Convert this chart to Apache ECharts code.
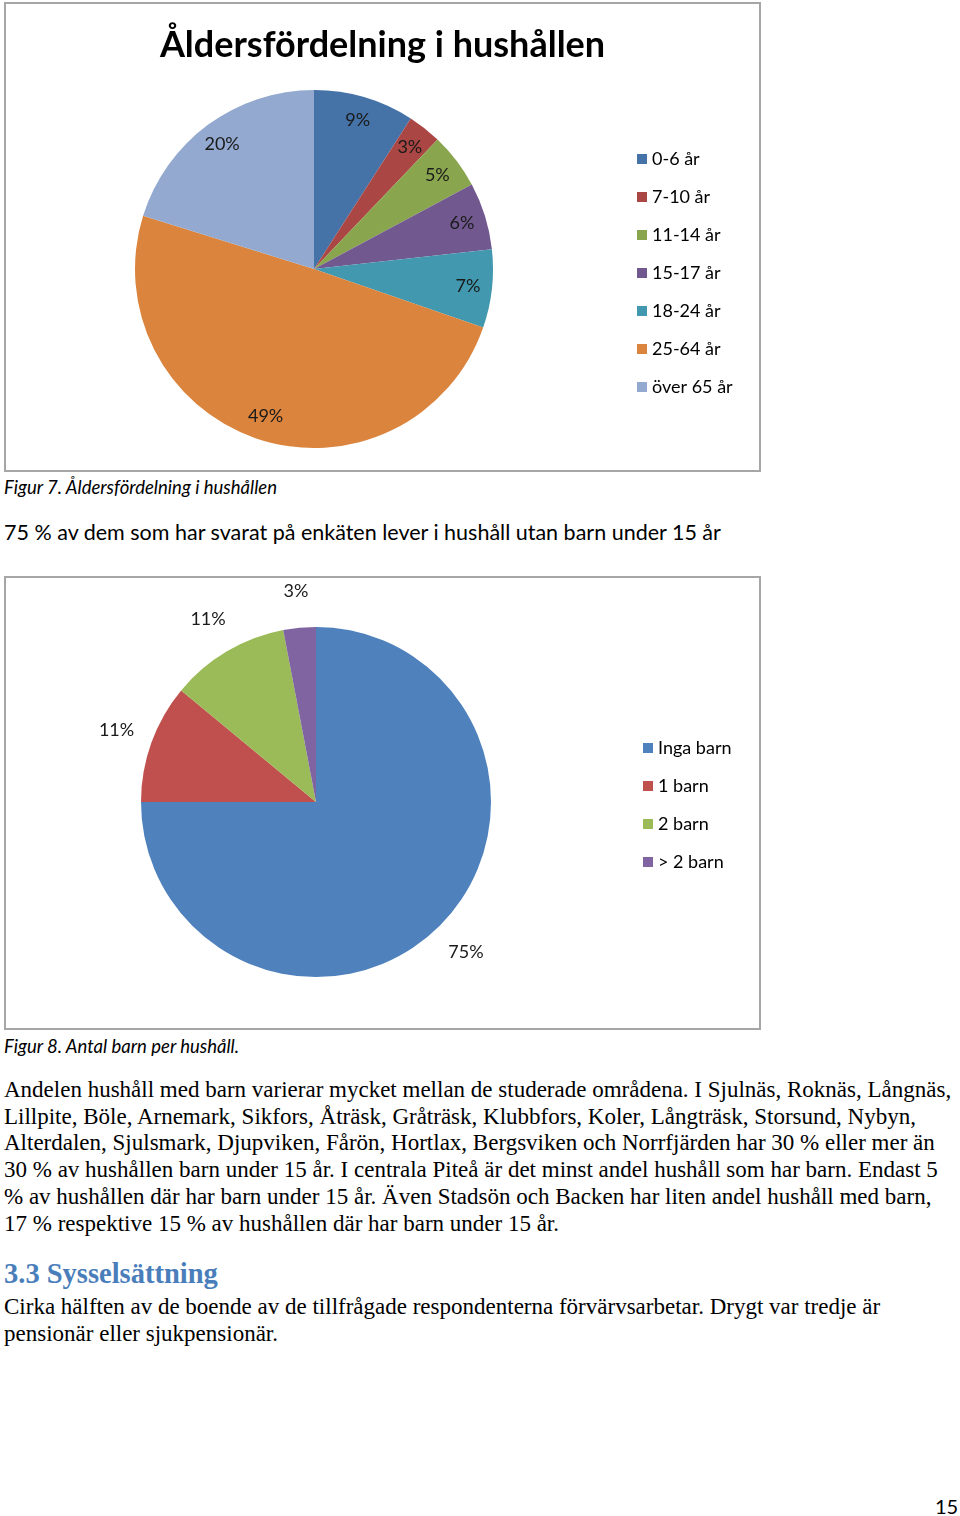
<!DOCTYPE html>
<html>
<head>
<meta charset="utf-8">
<script src="https://cdn.jsdelivr.net/npm/echarts@6/dist/echarts.min.js"></script>
<style>
  html, body { margin: 0; padding: 0; background: #fff; }
  #page { position: relative; width: 960px; height: 1516px; background: #fff; overflow: hidden; }
  .box { position: absolute; box-sizing: border-box; border: 2px solid #a6a6a6; background: #fff; }
  .t { position: absolute; white-space: nowrap; color: #000; }
  .cap { font-family: Lato, "Open Sans", sans-serif; font-style: italic; font-size: 18.5px; line-height: 22px; }
  .lead { font-family: Lato, "Open Sans", sans-serif; font-size: 21.5px; line-height: 26px; }
  .ser { font-family: "Liberation Serif", "DejaVu Serif", serif; font-size: 23px; line-height: 26px; }
  .h { font-family: "Liberation Serif", serif; font-weight: bold; font-size: 28.5px; line-height: 32px; color: #4a7ebb; }
</style>
</head>
<body>
<div id="page">
  <div id="c1" class="box" style="left:4px; top:2px; width:757px; height:470px;"></div>
  <div class="t cap" style="left:4px; top:476px;">Figur 7. Åldersfördelning i hushållen</div>
  <div class="t lead" style="left:4px; top:519px;">75 % av dem som har svarat på enkäten lever i hushåll utan barn under 15 år</div>
  <div id="c2" class="box" style="left:4px; top:576px; width:757px; height:454px;"></div>
  <div class="t cap" style="left:4px; top:1035px;">Figur 8. Antal barn per hushåll.</div>

  <div class="t ser" style="left:4px; top:1077px;">Andelen hushåll med barn varierar mycket mellan de studerade områdena. I Sjulnäs, Roknäs, Långnäs,</div>
  <div class="t ser" style="left:4px; top:1104px;">Lillpite, Böle, Arnemark, Sikfors, Åträsk, Gråträsk, Klubbfors, Koler, Långträsk, Storsund, Nybyn,</div>
  <div class="t ser" style="left:4px; top:1130px;">Alterdalen, Sjulsmark, Djupviken, Fårön, Hortlax, Bergsviken och Norrfjärden har 30 % eller mer än</div>
  <div class="t ser" style="left:4px; top:1157px;">30 % av hushållen barn under 15 år. I centrala Piteå är det minst andel hushåll som har barn. Endast 5</div>
  <div class="t ser" style="left:4px; top:1184px;">% av hushållen där har barn under 15 år. Även Stadsön och Backen har liten andel hushåll med barn,</div>
  <div class="t ser" style="left:4px; top:1211px;">17 % respektive 15 % av hushållen där har barn under 15 år.</div>

  <div class="t h" style="left:4px; top:1258px;">3.3 Sysselsättning</div>
  <div class="t ser" style="left:4px; top:1294px;">Cirka hälften av de boende av de tillfrågade respondenterna förvärvsarbetar. Drygt var tredje är</div>
  <div class="t ser" style="left:4px; top:1321px;">pensionär eller sjukpensionär.</div>

  <div class="t" style="left:935px; top:1494px; font-family: Lato, sans-serif; font-size:20px; line-height:24px;">15</div>
</div>
<script>
// ---- Data ----
const ageTitle = 'Åldersfördelning i hushållen';
const ageCategories = ['0-6 år', '7-10 år', '11-14 år', '15-17 år', '18-24 år', '25-64 år', 'över 65 år'];
const ageValues = [9, 3, 5, 6, 7, 49, 20];
const ageColors = ['#4572a7', '#aa4643', '#89a54e', '#71588f', '#4198af', '#db843d', '#93a9cf'];

const childCategories = ['Inga barn', '1 barn', '2 barn', '> 2 barn'];
const childValues = [75, 11, 11, 3];
const childColors = ['#4f81bd', '#c0504d', '#9bbb59', '#8064a2'];

const FONT = 'Lato, "Open Sans", sans-serif';

function legendData(cats, colors) {
  return cats.map((n, i) => ({ name: n, itemStyle: { color: colors[i] } }));
}
function mainData(cats, vals, colors) {
  return cats.map((n, i) => ({ name: n, value: vals[i], itemStyle: { color: colors[i] } }));
}
function labelData(cats, vals) {
  return cats.map((n, i) => ({ name: n, value: vals[i] }));
}

// ---- Chart 1 ----
const c1 = echarts.init(document.getElementById('c1'), null, { renderer: 'canvas' });
c1.setOption({
  animation: false,
  title: {
    text: ageTitle, left: 'center', top: 18,
    textStyle: { fontFamily: FONT, fontSize: 36, fontWeight: 'bold', color: '#000' }
  },
  legend: {
    orient: 'vertical', left: 626, top: 140, icon: 'rect',
    itemWidth: 10, itemHeight: 10, itemGap: 18, selectedMode: false,
    data: legendData(ageCategories, ageColors),
    textStyle: { fontFamily: FONT, fontSize: 18, color: '#000', lineHeight: 20 }
  },
  series: [
    {
      type: 'pie', center: [308, 265], radius: [0, 179], startAngle: 90, clockwise: true,
      silent: true, label: { show: false }, labelLine: { show: false },
      itemStyle: { borderWidth: 0 },
      data: mainData(ageCategories, ageValues, ageColors)
    },
    {
      type: 'pie', center: [308, 265], radius: [125, 179], startAngle: 90, clockwise: true,
      silent: true, avoidLabelOverlap: false,
      itemStyle: { color: 'rgba(0,0,0,0)', borderWidth: 0 },
      label: { show: true, position: 'inside', formatter: '{c}%', fontFamily: FONT, fontSize: 18, color: '#1a1a1a' },
      labelLine: { show: false },
      data: labelData(ageCategories, ageValues)
    }
  ]
});

// ---- Chart 2 ----
const c2 = echarts.init(document.getElementById('c2'), null, { renderer: 'canvas' });
c2.setOption({
  animation: false,
  legend: {
    orient: 'vertical', left: 632, top: 155, icon: 'rect',
    itemWidth: 10, itemHeight: 10, itemGap: 18, selectedMode: false,
    data: legendData(childCategories, childColors),
    textStyle: { fontFamily: FONT, fontSize: 18, color: '#000', lineHeight: 20 }
  },
  series: [
    {
      type: 'pie', center: [310, 224], radius: [0, 175], startAngle: 90, clockwise: true,
      silent: true, label: { show: false }, labelLine: { show: false },
      itemStyle: { borderWidth: 0 },
      data: mainData(childCategories, childValues, childColors)
    },
    {
      type: 'pie', center: [310, 224], radius: [184, 234], startAngle: 90, clockwise: true,
      silent: true, avoidLabelOverlap: false,
      itemStyle: { color: 'rgba(0,0,0,0)', borderWidth: 0 },
      label: { show: true, position: 'inside', formatter: '{c}%', fontFamily: FONT, fontSize: 18, color: '#1a1a1a' },
      labelLine: { show: false },
      data: labelData(childCategories, childValues)
    }
  ]
});
</script>
</body>
</html>
